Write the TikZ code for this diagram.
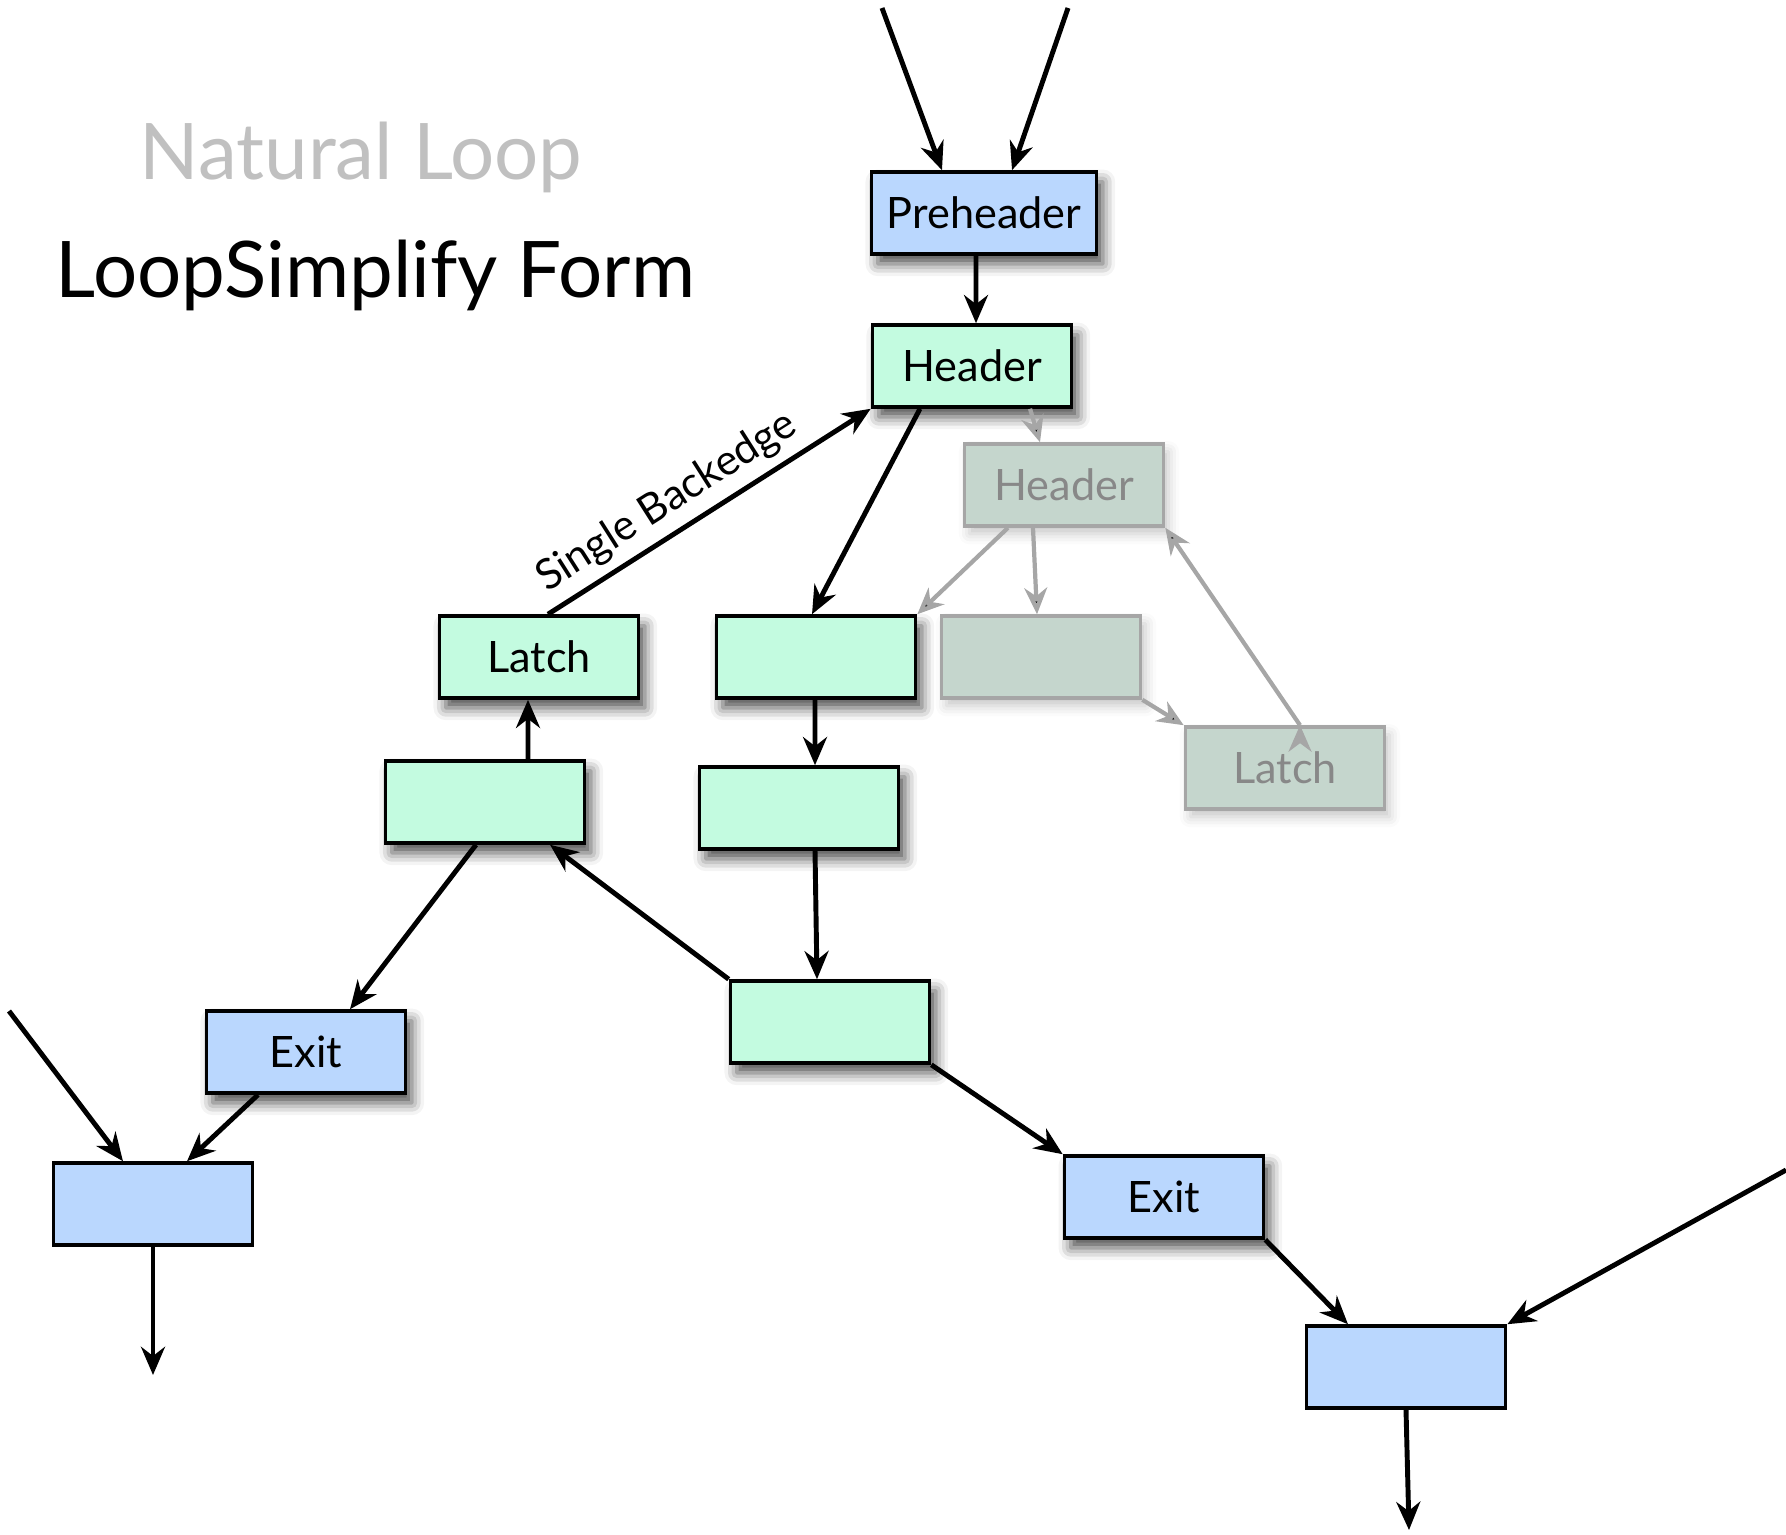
\documentclass[tikz,border=0pt]{standalone}
\usepackage{fontspec}
\setmainfont{Lato}
\usetikzlibrary{arrows.meta,shadows.blur}

\definecolor{outerblue}{RGB}{186,215,254}
\definecolor{loopgreen}{RGB}{195,251,224}
\definecolor{ghostfill}{RGB}{197,214,205}
\definecolor{ghostline}{RGB}{166,166,166}
\definecolor{ghosttext}{RGB}{136,136,136}
\definecolor{titlegray}{RGB}{192,192,192}

\begin{document}
\begin{tikzpicture}[x=0.01cm,y=-0.01cm,
    blk/.style={draw, line width=1pt, minimum width=1.99cm, minimum height=0.82cm,
        inner sep=0pt, font=\fontsize{12.3}{14}\selectfont},
    shd/.style={blur shadow={shadow xshift=1.8pt, shadow yshift=-2.8pt,
        shadow blur radius=3.5pt, shadow opacity=70}},
    outer/.style={blk, fill=outerblue},
    inloop/.style={blk, fill=loopgreen, shd},
    ghost/.style={blk, draw=ghostline, fill=ghostfill, text=ghosttext,
        blur shadow={shadow xshift=1.4pt, shadow yshift=-2.2pt, shadow blur radius=3pt, shadow opacity=22}},
    flow/.style={-{Stealth[length=8pt,width=6.8pt,inset=2.6pt]}, line width=1.4pt},
    gflow/.style={-{Stealth[length=7.5pt,width=6.5pt,inset=2.4pt]}, line width=1.2pt, draw=ghostline},
    title/.style={anchor=base west, inner sep=0pt, font=\fontsize{22.2}{26}\selectfont}]

\useasboundingbox (0,0) rectangle (1786,1534);

% headings
\node[title, text=titlegray] (nat) at (139,180) {Natural Loop};
\node[title] (lsf) at (55,298) {LoopSimplify Form};

% loop entry
\node[outer, shd, minimum width=2.25cm] (pre) at (984,213) {Preheader};
\node[inloop] (hdr) at (972,366) {Header};

% the loop body
\node[inloop] (latch) at (539,657) {Latch};
\node[inloop] (body1) at (816,657) {};
\node[inloop] (body2) at (485,802) {};
\node[inloop] (body3) at (799,808) {};
\node[inloop] (body4) at (830,1022) {};

% a second loop nested in the header
\node[ghost] (ghdr) at (1064,485) {Header};
\node[ghost] (gbody) at (1041,657) {};
\node[ghost] (glatch) at (1285,768) {Latch};

% exits and the blocks after the loop
\node[outer, shd] (exit1) at (306,1052) {Exit};
\node[outer, shd] (exit2) at (1164,1197) {Exit};
\node[outer] (after1) at (153,1204) {};
\node[outer] (after2) at (1406,1367) {};

\coordinate (in1) at (882,8);
\coordinate (in2) at (1068,8);
\coordinate (in3) at (9,1011);
\coordinate (in4) at (1786,1170);
\coordinate (out1) at (153,1375);
\coordinate (out2) at (1409,1530);

\path[gflow] ([xshift=0.58cm]hdr.south) edge ([xshift=-0.24cm]ghdr.north)
    ([xshift=-0.56cm]ghdr.south) edge (body1.north east)
    ([xshift=-0.31cm]ghdr.south) edge ([xshift=-0.04cm]gbody.north)
    (gbody.south east) edge (glatch.north west)
    ([xshift=0.15cm]glatch.north) edge (ghdr.south east);

\path[flow] (in1) edge ([xshift=-0.42cm]pre.north)
    (in2) edge ([xshift=0.28cm]pre.north)
    ([xshift=-0.08cm]pre.south) edge ([xshift=0.04cm]hdr.north)
    ([xshift=-0.52cm]hdr.south) edge ([xshift=-0.04cm]body1.north)
    ([xshift=0.09cm]latch.north) edge node[pos=0.42, above, sloped, inner sep=2.5pt,
        font=\fontsize{12}{14}\selectfont] {Single Backedge} (hdr.south west)
    ([xshift=-0.01cm]body1.south) edge ([xshift=0.16cm]body3.north)
    ([xshift=0.16cm]body3.south) edge ([xshift=-0.13cm]body4.north)
    (body4.north west) edge ([xshift=0.65cm]body2.south)
    ([xshift=0.43cm]body2.north) edge ([xshift=-0.11cm]latch.south)
    ([xshift=-0.09cm]body2.south) edge ([xshift=0.44cm]exit1.north)
    (body4.south east) edge (exit2.north west);

\path[flow] (in3) edge ([xshift=-0.30cm]after1.north)
    ([xshift=-0.48cm]exit1.south) edge ([xshift=0.34cm]after1.north)
    (after1.south) edge (out1)
    (exit2.south east) edge ([xshift=-0.58cm]after2.north)
    (in4) edge (after2.north east)
    (after2.south) edge (out2);
\end{tikzpicture}
\end{document}
